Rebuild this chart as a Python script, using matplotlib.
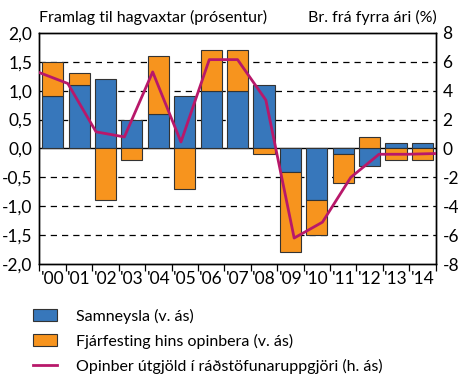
import matplotlib.pyplot as plt
import numpy as np

plt.rcParams['font.family'] = ['Lato', 'DejaVu Sans']

years = ["'00", "'01", "'02", "'03", "'04", "'05", "'06", "'07",
         "'08", "'09", "'10", "'11", "'12", "'13", "'14"]
samneysla = [0.9, 1.1, 1.2, 0.5, 0.6, 0.9, 1.0, 1.0,
             1.1, -0.4, -0.9, -0.1, -0.3, 0.1, 0.1]
fjarfesting = [0.6, 0.2, -0.9, -0.2, 1.0, -0.7, 0.7, 0.7,
               -0.1, -1.4, -0.6, -0.5, 0.2, -0.2, -0.2]
utgjold = [5.25, 4.5, 1.15, 0.8, 5.3, 0.45, 6.15, 6.15,
           3.35, -6.2, -5.1, -2.0, -0.4, -0.4, -0.35]

blue = '#3777bb'
orange = '#f7941e'
magenta = '#b8186a'

fig = plt.figure(figsize=(4.58, 3.74), dpi=100)
ax = fig.add_axes([0.0862, 0.294, 0.865, 0.618])

x = np.arange(len(years))
s = np.array(samneysla)
f = np.array(fjarfesting)
# orange stacks on top of blue when both share a sign, otherwise starts at zero
f_base = np.where(np.sign(s) == np.sign(f), s, 0)

for yv in [-1.5, -1.0, -0.5, 0.5, 1.0, 1.5]:
    ax.axhline(yv, color='black', lw=0.9, ls=(0, (5, 4)), zorder=0)
ax.axhline(0, color='black', lw=1.0, zorder=1)

ax.bar(x, s, width=0.8, color=blue, edgecolor='#333333', lw=0.8,
       zorder=2, label='Samneysla (v. ás)')
ax.bar(x, f, bottom=f_base, width=0.8, color=orange, edgecolor='#333333',
       lw=0.8, zorder=2, label='Fjárfesting hins opinbera (v. ás)')

ax.set_xlim(-0.5, len(years) - 0.5)
ax.set_ylim(-2.0, 2.0)
ax.set_yticks(np.arange(-2.0, 2.01, 0.5))
ax.set_yticklabels([f'{v:.1f}'.replace('.', ',') for v in np.arange(-2.0, 2.01, 0.5)])
ax.set_xticks(x)
ax.set_xticklabels(years)
ax.set_xticks(np.arange(-0.5, len(years), 1.0), minor=True)
ax.tick_params(axis='x', which='major', length=0, labelsize=12.5, pad=5)
ax.tick_params(axis='x', which='minor', length=5, width=0.9, direction='out')
ax.tick_params(axis='y', length=0, labelsize=12.5, pad=5)

ax2 = ax.twinx()
# line spans the full plot width, one point per year
xl = np.linspace(-0.5, len(years) - 0.5, len(utgjold))
ax2.plot(xl, utgjold, color=magenta, lw=2.0, zorder=3,
         label='Opinber útgjöld í ráðstöfunaruppgjöri (h. ás)')
ax2.set_ylim(-8, 8)
ax2.set_yticks(np.arange(-8, 9, 2))
ax2.set_yticklabels([str(v) for v in range(-8, 9, 2)])
ax2.tick_params(axis='y', length=0, labelsize=12.5, pad=5)

for a in (ax, ax2):
    for sp in a.spines.values():
        sp.set_linewidth(1.0)

fig.text(0.0862, 0.952, 'Framlag til hagvaxtar (prósentur)', fontsize=11.5,
         ha='left', va='center')
fig.text(0.953, 0.952, 'Br. frá fyrra ári (%)', fontsize=11.5,
         ha='right', va='center')

h1, l1 = ax.get_legend_handles_labels()
h2, l2 = ax2.get_legend_handles_labels()
fig.legend(h1 + h2, l1 + l2, loc='upper left', bbox_to_anchor=(0.058, 0.192),
           frameon=False, fontsize=11.5, handlelength=1.5, handleheight=0.7,
           labelspacing=0.62, handletextpad=1.2, borderaxespad=0)

fig.savefig('out.png', dpi=100)
